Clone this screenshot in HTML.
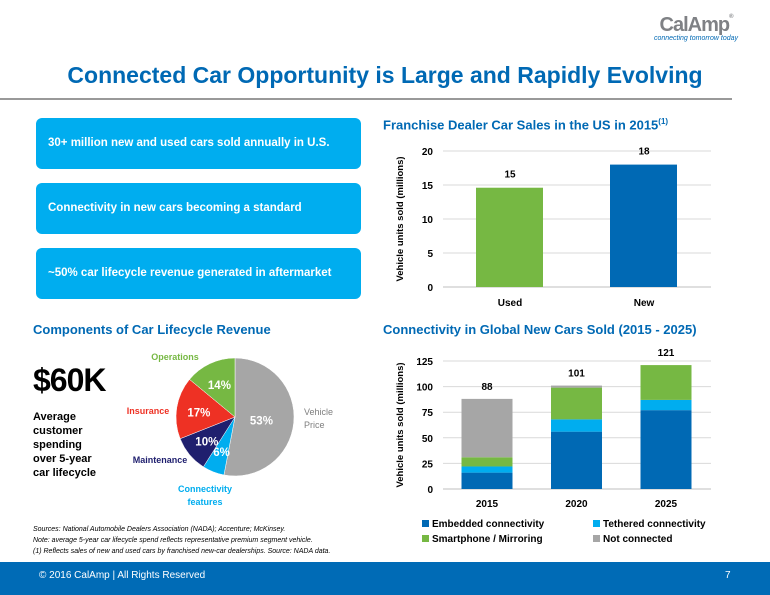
<!DOCTYPE html>
<html><head><meta charset="utf-8"><style>
body{margin:0;width:770px;height:595px;overflow:hidden;background:#fff;font-family:"Liberation Sans",sans-serif;position:relative}
.abs{position:absolute}
.box{position:absolute;left:36px;width:325px;height:51px;background:#00adef;border-radius:6px;color:#fff;font-weight:bold;font-size:11.5px;line-height:51px;padding-left:12px;box-sizing:border-box}
.sub{position:absolute;color:#0069b4;font-weight:bold;font-size:13px}
</style></head><body>
<div class="abs" style="left:646px;top:14px;width:100px;text-align:center">
<div style="font-weight:bold;font-size:20px;color:#7f8185;letter-spacing:-1px">CalAmp<span style="font-size:6px;vertical-align:top">®</span></div>
<div style="font-style:italic;font-size:7px;color:#0069b4;margin-top:-2px">connecting tomorrow today</div></div>
<div class="abs" style="left:0;width:770px;top:62px;text-align:center;color:#0069b4;font-weight:bold;font-size:23px">Connected Car Opportunity is Large and Rapidly Evolving</div>
<div class="abs" style="left:0;top:98px;width:732px;height:2px;background:#999"></div>
<div class="box" style="top:118px">30+ million new and used cars sold annually in U.S.</div>
<div class="box" style="top:183px">Connectivity in new cars becoming a standard</div>
<div class="box" style="top:248px">~50% car lifecycle revenue generated in aftermarket</div>
<div class="sub" style="left:383px;top:117px">Franchise Dealer Car Sales in the US in 2015<sup style="font-size:8px">(1)</sup></div>
<div class="sub" style="left:33px;top:322px">Components of Car Lifecycle Revenue</div>
<div class="sub" style="left:383px;top:322px">Connectivity in Global New Cars Sold (2015 - 2025)</div>
<div class="abs" style="left:33px;top:362px;font-weight:bold;font-size:32px;letter-spacing:-1px">$60K</div>
<div class="abs" style="left:33px;top:410px;font-weight:bold;font-size:11px;line-height:14px">Average<br>customer<br>spending<br>over 5-year<br>car lifecycle</div>
<svg class="abs" style="left:0;top:0" width="770" height="595" id="svg"></svg>
<div class="abs" style="left:33px;top:524px;font-style:italic;font-size:7px;line-height:11px">Sources: National Automobile Dealers Association (NADA); Accenture; McKinsey.<br>Note: average 5-year car lifecycle spend reflects representative premium segment vehicle.<br>(1) Reflects sales of new and used cars by franchised new-car dealerships. Source: NADA data.</div>
<div class="abs" style="left:0;top:562px;width:770px;height:33px;background:#006bb6;color:#fff;font-size:10px">
<span style="position:absolute;left:39px;top:8px">© 2016 CalAmp | All Rights Reserved</span><span style="position:absolute;left:725px;top:8px">7</span></div>
<script>
const salesCats=["Used","New"];
const salesVals=[14.6,18];
const salesLabels=["15","18"];
const salesTicks=[0,5,10,15,20];
const years=["2015","2020","2025"];
const embedded=[16,56,77];
const tethered=[6,12,10];
const smartphone=[9,31,34];
const notConnected=[57,2,0];
const totals=["88","101","121"];
const connTicks=[0,25,50,75,100,125];
const pieLabels=["Vehicle Price","Connectivity features","Maintenance","Insurance","Operations"];
const pieVals=[53,6,10,17,14];
const svg=document.getElementById('svg');const NS='http://www.w3.org/2000/svg';
function mk(t,a,txt){const e=document.createElementNS(NS,t);for(const k in a)e.setAttribute(k,a[k]);if(txt!==undefined)e.textContent=txt;svg.appendChild(e);return e;}
const sy=v=>287-v*(136/20);
salesTicks.forEach(t=>{const l=mk('line',{x1:443,x2:711,y1:sy(t),y2:sy(t),stroke:t?'#d9d9d9':'#bfbfbf'});
const tx=mk('text',{x:433,y:sy(t)+4,'text-anchor':'end','font-size':10,'font-weight':'bold'},t);});
const sx=i=>510+i*134;
salesCats.forEach((c,i)=>{const r=mk('rect',{x:sx(i)-34,width:67,y:sy(salesVals[i]),height:sy(0)-sy(salesVals[i]),fill:i?'#0069b4':'#76b843'});
const v=mk('text',{x:sx(i),y:sy(salesVals[i])-10,'text-anchor':'middle','font-size':10,'font-weight':'bold'},salesLabels[i]);
const x=mk('text',{x:sx(i),y:306,'text-anchor':'middle','font-size':10,'font-weight':'bold'},c);});
const st=mk('text',{transform:'translate(403,219) rotate(-90)','text-anchor':'middle','font-size':9.5,'font-weight':'bold'},'Vehicle units sold (millions)');
const cy=v=>489-v*(128/125);
connTicks.forEach(t=>{const l=mk('line',{x1:443,x2:711,y1:cy(t),y2:cy(t),stroke:t?'#d9d9d9':'#bfbfbf'});
const tx=mk('text',{x:433,y:cy(t)+4,'text-anchor':'end','font-size':10,'font-weight':'bold'},t);});
const cx=i=>487+i*89.5;
const series=[[embedded,'#0069b4','embedded'],[tethered,'#00adef','tethered'],[smartphone,'#76b843','smartphone'],[notConnected,'#a6a6a6','not-connected']];
years.forEach((yr,i)=>{let base=0;series.forEach(s=>{const v=s[0][i];if(v>0){const r=mk('rect',{x:cx(i)-25.5,width:51,y:cy(base+v),height:cy(base)-cy(base+v),fill:s[1]});}base+=v;});
const t=mk('text',{x:cx(i),y:cy(base)-9,'text-anchor':'middle','font-size':10,'font-weight':'bold'},totals[i]);
const x=mk('text',{x:cx(i),y:507,'text-anchor':'middle','font-size':10,'font-weight':'bold'},yr);});
const ct=mk('text',{transform:'translate(403,425) rotate(-90)','text-anchor':'middle','font-size':9.5,'font-weight':'bold'},'Vehicle units sold (millions)');
const legNames=['Embedded connectivity','Tethered connectivity','Smartphone / Mirroring','Not connected'];
legNames.forEach((n,i)=>{const lx=i%2?593:422,ly=i<2?527:542;const r=mk('rect',{x:lx,y:ly-7,width:7,height:7,fill:series[i][1]});
const t=mk('text',{x:lx+10,y:ly,'font-size':10,'font-weight':'bold'},n);});
const pcx=235,pcy=417,pr=59;const cols=['#a6a6a6','#00adef','#1f1f6e','#ee3124','#76b843'];
const pct=['53%','6%','10%','17%','14%'];
const tot=pieVals.reduce((a,b)=>a+b,0);let ang=0;
pieVals.forEach((v,i)=>{const a0=ang,a1=ang+v/tot*2*Math.PI;ang=a1;
const p=(a,r)=>[pcx+r*Math.sin(a),pcy-r*Math.cos(a)];const [x0,y0]=p(a0,pr),[x1,y1]=p(a1,pr);
const path=mk('path',{d:`M${pcx},${pcy}L${x0},${y0}A${pr},${pr} 0 ${a1-a0>Math.PI?1:0} 1 ${x1},${y1}Z`,fill:cols[i],stroke:'#fff','stroke-width':0.5});
const m=(a0+a1)/2;const rr=i==0?0.45:0.62;const [lx,ly]=p(m,pr*rr);
const t=mk('text',{x:lx,y:ly+5,'text-anchor':'middle','font-size':11.5,'font-weight':'bold',fill:'#fff'},pct[i]);});
const outer=[[[304,415],[304,428],'start','#7f7f7f',['Vehicle','Price']],[[205,492],[205,505],'middle','#00adef',['Connectivity','features']],[[160,463],null,'middle','#1f1f6e',['Maintenance']],[[148,414],null,'middle','#ee3124',['Insurance']],[[175,360],null,'middle','#76b843',['Operations']]];
outer.forEach(o=>{o[4].forEach((s,j)=>{const pos=o[j];const t=mk('text',{x:pos[0],y:pos[1],'text-anchor':o[2],'font-size':9,'font-weight':o[3]=='#7f7f7f'?'normal':'bold',fill:o[3]},s);});});
</script>
</body></html>
